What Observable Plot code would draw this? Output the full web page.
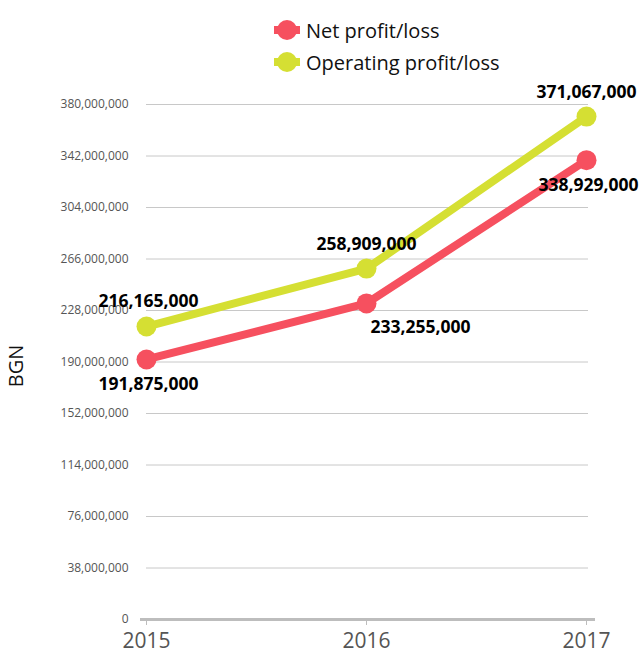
<!DOCTYPE html>
<html>
<head>
<meta charset="utf-8">
<script src="https://cdn.jsdelivr.net/npm/d3@7"></script>
<script src="https://cdn.jsdelivr.net/npm/@observablehq/plot@0.6"></script>
<style>
  html, body { margin: 0; padding: 0; background: #fff; }
  #wrap { position: relative; width: 641px; height: 655px; font-family: "Open Sans", sans-serif; }
  #legend { position: absolute; left: 274px; top: 14px; font-size: 20px; color: #111; }
  #legend .item { display: flex; align-items: center; height: 32px; }
  #legend svg { margin-right: 6px; }
</style>
</head>
<body>
<div id="wrap"><div id="legend"></div></div>
<script>
const years = [2015, 2016, 2017];
const netProfit = [191875000, 233255000, 338929000];
const operatingProfit = [216165000, 258909000, 371067000];
const seriesNames = ["Net profit/loss", "Operating profit/loss"];
const seriesColors = ["#f6505f", "#d5df33"];
const yTicks = d3.range(0, 380000001, 38000000);

const data = [
  ...years.map((y, i) => ({year: y, value: netProfit[i], series: seriesNames[0]})),
  ...years.map((y, i) => ({year: y, value: operatingProfit[i], series: seriesNames[1]}))
];
const fmt = d3.format(",");
const font = "Open Sans, sans-serif";

const net = data.filter(d => d.series === seriesNames[0]);
const op = data.filter(d => d.series === seriesNames[1]);

const chart = Plot.plot({
  width: 641,
  height: 655,
  marginLeft: 146,
  marginRight: 55,
  marginTop: 104,
  marginBottom: 36,
  style: {fontFamily: font, background: "white"},
  x: {domain: [2015, 2017], ticks: years, tickFormat: d => String(d), label: null},
  y: {domain: [0, 380000000], ticks: yTicks, label: null},
  color: {domain: seriesNames, range: seriesColors},
  marks: [
    Plot.ruleY(yTicks.filter(t => t > 0), {stroke: "#c8c8c8", strokeWidth: 1, insetRight: -2}),
    Plot.ruleY([0], {stroke: "#bdbdbd", strokeWidth: 3, insetLeft: -6, insetRight: -9}),
    Plot.axisY({ticks: yTicks, tickSize: 0, tickPadding: 18, fontSize: 12, fill: "#555", tickFormat: fmt, label: null}),
    Plot.axisX({ticks: years, tickSize: 6, stroke: "#bdbdbd", tickPadding: 8, fontSize: 21, fill: "#555", tickFormat: d => String(d), label: null}),
    Plot.text(["BGN"], {frameAnchor: "left", dx: -130, dy: 4, rotate: -90, textAnchor: "middle", fontSize: 20, fill: "#111"}),
    Plot.line(data, {x: "year", y: "value", stroke: "series", strokeWidth: 8, strokeLinecap: "butt"}),
    Plot.dot(data, {x: "year", y: "value", fill: "series", r: 10}),
    // Operating labels (above)
    Plot.text(op.filter(d => d.year === 2015), {x: "year", y: "value", text: d => fmt(d.value), dy: -25, dx: 2, fontSize: 17.5, fontWeight: "bold", fill: "#000"}),
    Plot.text(op.filter(d => d.year !== 2015), {x: "year", y: "value", text: d => fmt(d.value), dy: -24, fontSize: 17.5, fontWeight: "bold", fill: "#000"}),
    // Net labels (below)
    Plot.text(net.filter(d => d.year !== 2016), {x: "year", y: "value", text: d => fmt(d.value), dy: 25, dx: 2, fontSize: 17.5, fontWeight: "bold", fill: "#000"}),
    Plot.text(net.filter(d => d.year === 2016), {x: "year", y: "value", text: d => fmt(d.value), dy: 24, dx: 4, textAnchor: "start", fontSize: 17.5, fontWeight: "bold", fill: "#000"})
  ]
});
document.getElementById("wrap").appendChild(chart);

const legend = document.getElementById("legend");
seriesNames.forEach((name, i) => {
  const item = document.createElement("div");
  item.className = "item";
  item.innerHTML = `<svg width="26" height="22"><line x1="0" x2="26" y1="11" y2="11" stroke="${seriesColors[i]}" stroke-width="8"/><circle cx="13" cy="11" r="10" fill="${seriesColors[i]}"/></svg><span>${name}</span>`;
  legend.appendChild(item);
});
</script>
</body>
</html>
